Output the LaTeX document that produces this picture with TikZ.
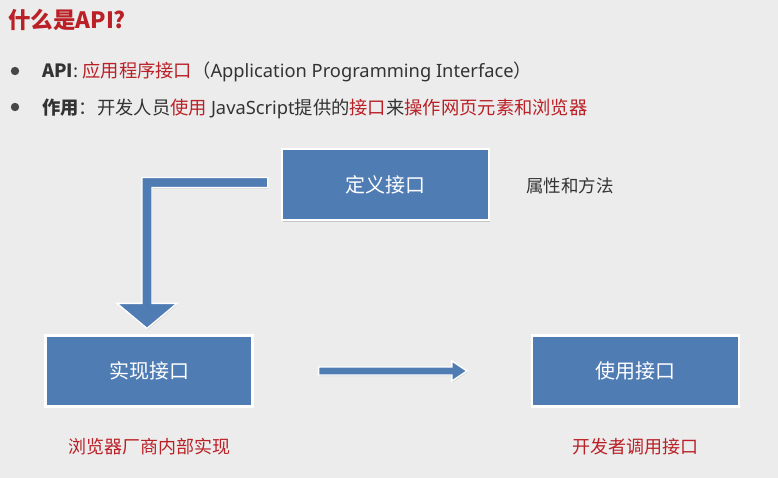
\documentclass[tikz,border=0pt]{standalone}
\usepackage{fontspec}
\setmainfont{Noto Sans CJK SC}
\newfontfamily\lat{Noto Sans}
\usetikzlibrary{calc,shadows}
\definecolor{bg}{RGB}{236,236,236}
\definecolor{boxblue}{RGB}{80,124,180}
\definecolor{accent}{RGB}{186,32,38}
\definecolor{ink}{RGB}{51,51,51}
\begin{document}
\begin{tikzpicture}[x=1pt,y=-1pt,
  box/.style={draw=white,line width=2.2pt,fill=boxblue,text=white,
    minimum width=207pt,minimum height=71pt,inner sep=0pt,
    font=\fontsize{20}{20}\selectfont,
    drop shadow={shadow xshift=0.6pt,shadow yshift=-1.6pt,opacity=0.35}},
  blockarrow/.style={fill=boxblue,draw=white,line width=1.4pt,line join=miter,
    drop shadow={shadow xshift=0.6pt,shadow yshift=-1.2pt,opacity=0.25}},
  note/.style={text=accent,font=\fontsize{18}{18}\selectfont},
  body/.style={text=ink,font=\fontsize{18.3}{18.3}\selectfont,anchor=base west,inner sep=0pt},
  dot/.style={fill=ink!90,draw=none}]
  % canvas
  \fill[bg] (0,0) rectangle (778,478);
  \useasboundingbox (0,0) rectangle (778,478);

  % heading
  \node[anchor=base west,inner sep=0pt,text=accent,font=\fontsize{22.5}{22.5}\selectfont\bfseries]
    (title) at (8,29) {什么是API?};

  % bullet list
  \fill[dot] (15,71) circle (4.2);
  \node[body] (l1) at (42,78) {\textbf{API}: \textcolor{accent}{应用程序接口}（{\lat Application Programming Interface}）};
  \fill[dot] (15,107) circle (4.2);
  \node[body] (l2) at (42,115) {\textbf{作用}：开发人员\textcolor{accent}{使用} {\lat JavaScript}提供的\textcolor{accent}{接口}来\textcolor{accent}{操作网页元素和浏览器}};

  % the three boxes
  \node[box] (def)  at (385.5,184.5) {定义接口};
  \node[box] (impl) at (149,371)     {实现接口};
  \node[box] (use)  at (635.5,371)   {使用接口};

  \node[anchor=west,inner sep=0pt,text=ink,font=\fontsize{17.5}{17.5}\selectfont]
    (attr) at (526,186) {属性和方法};

  % captions under the lower boxes
  \node[note] (implnote) at ($(impl.south)+(0,39)$) {浏览器厂商内部实现};
  \node[note] (usenote)  at ($(use.south)+(0,39)$)  {开发者调用接口};

  % L-shaped block arrow: definition -> implementation
  \coordinate (Ls)   at ($(def.west)+(-13,-2)$);
  \coordinate (Ltip) at ($(impl.north)+(-2,-6)$);
  \coordinate (Lc)   at (Ltip |- Ls);
  \path[blockarrow]
    ($(Ls)+(0,-5)$) -- ($(Lc)+(-5,-5)$) -- ($(Ltip)+(-5,-25)$) -- ($(Ltip)+(-30,-25)$)
    -- (Ltip) -- ($(Ltip)+(30,-25)$) -- ($(Ltip)+(5,-25)$) -- ($(Lc)+(5,5)$)
    -- ($(Ls)+(0,5)$) -- cycle;

  % straight block arrow: implementation -> usage
  \coordinate (Hs) at ($(impl.east)+(65,0)$);
  \coordinate (Ht) at ($(use.west)+(-64,0)$);
  \path[blockarrow]
    ($(Hs)+(0,-4)$) -- ($(Ht)+(-15,-4)$) -- ($(Ht)+(-15,-10)$) -- (Ht)
    -- ($(Ht)+(-15,10)$) -- ($(Ht)+(-15,4)$) -- ($(Hs)+(0,4)$) -- cycle;
\end{tikzpicture}
\end{document}
